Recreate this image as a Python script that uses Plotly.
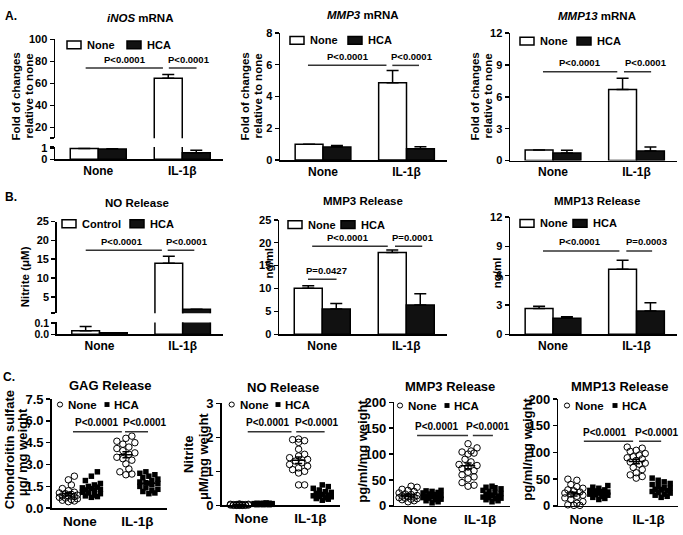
import numpy as np
import plotly.graph_objects as go

W, H = 683, 535
FONT = "Liberation Sans, Arial, sans-serif"

groups = ["None", "IL-1β"]
group_x = [0, 1]

# ---------------- Row A : mRNA (fold of changes) ----------------
inos_none = [1.0, 64.7]
inos_none_err = [0.0, 3.5]
inos_hca = [0.97, 0.61]
inos_hca_err = [0.02, 0.24]

mmp3_mrna_none = [1.0, 4.86]
mmp3_mrna_none_err = [0.0, 0.77]
mmp3_mrna_hca = [0.82, 0.72]
mmp3_mrna_hca_err = [0.1, 0.12]

mmp13_mrna_none = [1.0, 6.69]
mmp13_mrna_none_err = [0.0, 1.06]
mmp13_mrna_hca = [0.7, 0.91]
mmp13_mrna_hca_err = [0.27, 0.37]

# ---------------- Row B : release ----------------
no_ctrl = [0.033, 13.9]
no_ctrl_err = [0.04, 1.9]
no_hca = [0.013, 1.7]
no_hca_err = [0.0, 0.0]

mmp3_rel_none = [10.06, 17.85]
mmp3_rel_none_err = [0.55, 0.55]
mmp3_rel_hca = [5.5, 6.37]
mmp3_rel_hca_err = [1.2, 2.5]

mmp13_rel_none = [2.63, 6.64]
mmp13_rel_none_err = [0.23, 0.93]
mmp13_rel_hca = [1.64, 2.37]
mmp13_rel_hca_err = [0.16, 0.85]

# ---------------- Row C : explant scatter ----------------
gag_none_ctrl = [2.2, 1.95, 1.6, 1.35, 1.2, 1.1, 1.05, 1.0, 0.95, 0.9, 0.85, 0.85, 0.8, 0.75, 0.7, 0.65, 0.6, 0.55, 0.5, 0.45]
gag_none_hca = [2.5, 2.2, 1.9, 1.7, 1.6, 1.5, 1.45, 1.4, 1.35, 1.3, 1.25, 1.2, 1.1, 1.05, 1.0, 0.9, 0.85, 0.8, 0.75]
gag_il_ctrl = [4.95, 4.8, 4.6, 4.5, 4.4, 4.2, 4.1, 3.95, 3.8, 3.7, 3.5, 3.4, 3.3, 3.05, 2.7, 2.5, 2.35, 2.3]
gag_il_hca = [2.5, 2.4, 2.3, 2.2, 2.1, 2.0, 1.9, 1.8, 1.75, 1.7, 1.6, 1.5, 1.4, 1.3, 1.2, 1.15, 1.05, 1.0]

no_none_ctrl = [0.0, 0.01, 0.02, 0.0, 0.01, 0.03, 0.02, 0.01, 0.0, 0.02, 0.01, 0.0, 0.03, 0.02, 0.01, 0.04, 0.0, 0.02]
no_none_hca = [0.02, 0.03, 0.05, 0.04, 0.06, 0.03, 0.02, 0.05, 0.07, 0.04, 0.03, 0.06, 0.05, 0.02, 0.04, 0.03, 0.05, 0.06]
no_il_ctrl = [1.95, 1.93, 1.9, 1.85, 1.65, 1.5, 1.45, 1.4, 1.35, 1.3, 1.25, 1.2, 1.15, 1.1, 1.05, 1.0, 0.95, 0.6, 0.6]
no_il_hca = [0.6, 0.55, 0.5, 0.45, 0.4, 0.38, 0.35, 0.32, 0.3, 0.28, 0.26, 0.25, 0.22, 0.2, 0.18, 0.15]

mmp3_none_ctrl = [38, 36, 32, 30, 28, 25, 23, 22, 20, 19, 18, 17, 16, 15, 14, 13, 12, 10, 8]
mmp3_none_hca = [30, 29, 28, 26, 25, 23, 22, 20, 19, 18, 17, 16, 15, 13, 12, 10, 8, 6]
mmp3_il_ctrl = [120, 112, 106, 104, 102, 100, 90, 85, 80, 78, 75, 72, 68, 65, 60, 56, 52, 45, 40, 38]
mmp3_il_hca = [38, 36, 35, 33, 30, 28, 26, 24, 22, 20, 18, 17, 16, 15, 14, 12, 10, 8]

mmp13_none_ctrl = [50, 48, 40, 36, 33, 30, 28, 26, 24, 22, 20, 18, 15, 12, 8, 5, 2, 1, 1]
mmp13_none_hca = [38, 35, 33, 30, 29, 28, 27, 26, 25, 24, 23, 22, 21, 20, 18, 16, 14, 12]
mmp13_il_ctrl = [110, 108, 104, 102, 98, 95, 92, 90, 88, 85, 82, 80, 78, 72, 68, 62, 58, 55, 52]
mmp13_il_hca = [52, 48, 45, 42, 40, 38, 35, 33, 31, 30, 28, 27, 25, 24, 22, 20, 18, 16]

# ====================================================================
fig = go.Figure()
lay = {}
n_ax = [0]
BOLD = "bold"


def fx(x):
    return x / W


def fy(y):
    return 1 - y / H


def make_axes(xL, xR, yT, yB, xr, yr, yticks, ytext=None, show_x=True, xfs=12, yfs=11):
    n_ax[0] += 1
    n = n_ax[0]
    s = "" if n == 1 else str(n)
    lay["xaxis" + s] = dict(
        domain=[fx(xL), fx(xR)], range=xr, anchor="y" + s,
        showline=show_x, linecolor="black", linewidth=1.5, ticks="",
        tickmode="array", tickvals=group_x if show_x else [],
        ticktext=groups if show_x else [], showticklabels=show_x,
        showgrid=False, zeroline=False, fixedrange=True,
        tickfont=dict(family=FONT, size=xfs, color="black", weight=BOLD))
    lay["yaxis" + s] = dict(
        domain=[fy(yB), fy(yT)], range=yr, anchor="x" + s,
        showline=True, linecolor="black", linewidth=1.5,
        ticks="outside", ticklen=4, tickwidth=1.5, tickcolor="black",
        tickmode="array", tickvals=yticks,
        ticktext=ytext if ytext else [str(v) for v in yticks],
        showgrid=False, zeroline=False, fixedrange=True,
        tickfont=dict(family=FONT, size=yfs, color="black", weight=BOLD))
    return "x" + s, "y" + s


def add_bar_pair(xa, ya, w_vals, w_err, b_vals, b_err):
    for vals, err, fill in ((w_vals, w_err, "white"), (b_vals, b_err, "#111111")):
        fig.add_trace(go.Bar(
            x=group_x, y=vals, xaxis=xa, yaxis=ya,
            marker=dict(color=fill, line=dict(color="black", width=1.5)),
            error_y=dict(type="data", array=err, arrayminus=[0] * len(err),
                         symmetric=False, color="black", thickness=1.5, width=6),
            showlegend=False, hoverinfo="skip"))


def txt(x, y, text, size, xanchor="center", angle=0, weight=BOLD):
    fig.add_annotation(xref="paper", yref="paper", x=fx(x), y=fy(y), text=text,
                       showarrow=False, xanchor=xanchor, yanchor="middle",
                       textangle=angle, borderpad=0,
                       font=dict(family=FONT, size=size, color="black", weight=weight))


def add_sig(xa, ya, specs, size=9.5):
    for x0, x1, y, tx, label in specs:
        fig.add_shape(type="line", xref=xa, yref=ya, x0=x0, x1=x1, y0=y, y1=y,
                      line=dict(color="#333333", width=1.5))
        fig.add_annotation(xref=xa, yref=ya, x=tx, y=y, text=label, showarrow=False,
                           yanchor="middle", yshift=9,
                           font=dict(family=FONT, size=size, color="black", weight=BOLD))


def add_bar_legend(b1x, b2x, yc, labels, size=11):
    for bx, fill, lab in ((b1x, "white", labels[0]), (b2x, "#111111", labels[1])):
        fig.add_shape(type="rect", xref="paper", yref="paper",
                      x0=fx(bx), x1=fx(bx + 14), y0=fy(yc + 4), y1=fy(yc - 4),
                      fillcolor=fill, line=dict(color="black", width=1.5))
        txt(bx + 19, yc, lab, size, xanchor="left")


def add_dot_legend(cx, sx, yc, size=11.5):
    fig.add_shape(type="circle", xref="paper", yref="paper",
                  x0=fx(cx - 2.6), x1=fx(cx + 2.6), y0=fy(yc + 2.6), y1=fy(yc - 2.6),
                  line=dict(color="black", width=1))
    txt(cx + 7, yc, "None", size, xanchor="left")
    fig.add_shape(type="rect", xref="paper", yref="paper",
                  x0=fx(sx - 2.5), x1=fx(sx + 2.5), y0=fy(yc + 2.5), y1=fy(yc - 2.5),
                  fillcolor="black", line=dict(color="black", width=0))
    txt(sx + 6, yc, "HCA", size, xanchor="left")


def swarm(vals, ppu, ppc, d=6.0, maxoff=9.0):
    order = sorted(range(len(vals)), key=lambda i: vals[i])
    cands = [0.0]
    k = 1
    while k * d * 0.5 <= maxoff + 1e-9:
        cands += [k * d * 0.5, -k * d * 0.5]
        k += 1
    placed = []
    offs = [0.0] * len(vals)
    for i in order:
        y = vals[i] * ppu
        best, bestd = 0.0, -1.0
        for c in cands:
            dists = [((c - px) ** 2 + (y - py) ** 2) ** 0.5 for px, py in placed]
            dmin = min(dists) if dists else 1e9
            if dmin >= d:
                best = c
                break
            if dmin > bestd:
                bestd, best = dmin, c
        placed.append((best, y))
        offs[i] = best / ppc
    return offs


def add_dot_panel(xa, ya, geom, data_sets):
    xL, xR, yT, yB, xr, yr = geom
    ppu = (yB - yT) / (yr[1] - yr[0])
    ppc = (xR - xL) / (xr[1] - xr[0])
    for vals, center, kind in data_sets:
        offs = swarm(vals, ppu, ppc)
        xs = [center + o for o in offs]
        if kind == "open":
            mk = dict(symbol="circle-open", size=6.5, color="black", line=dict(color="black", width=1))
        else:
            mk = dict(symbol="square", size=5.5, color="black", line=dict(width=0))
        fig.add_trace(go.Scatter(x=xs, y=vals, xaxis=xa, yaxis=ya, mode="markers",
                                 marker=mk, showlegend=False, hoverinfo="skip", cliponaxis=False))
        m = float(np.mean(vals))
        s = float(np.std(vals, ddof=1) / np.sqrt(len(vals)))
        lx = [center - 0.12, center + 0.12, None,
              center - 0.06, center + 0.06, None,
              center - 0.06, center + 0.06, None,
              center, center]
        ly = [m, m, None, m + s, m + s, None, m - s, m - s, None, m - s, m + s]
        fig.add_trace(go.Scatter(x=lx, y=ly, xaxis=xa, yaxis=ya, mode="lines",
                                 line=dict(color="black", width=1.5),
                                 showlegend=False, hoverinfo="skip"))


XR_BAR = [-0.515, 1.485]

# ---------------- Panel A1 : iNOS (broken axis) ----------------
xa, ya = make_axes(55, 223, 144, 156.7, XR_BAR, [0, 1.155], [0, 1, 1.155], ["0", "1", ""])
add_bar_pair(xa, ya, inos_none, inos_none_err, inos_hca, inos_hca_err)
xa2, ya2 = make_axes(55, 223, 33.3, 135, XR_BAR, [10.3, 100], [10.3, 20, 40, 60, 80, 100],
                     ["", "20", "40", "60", "80", "100"], show_x=False)
add_bar_pair(xa2, ya2, inos_none, inos_none_err, inos_hca, inos_hca_err)
add_sig(xa2, ya2, [(-0.15, 0.77, 74, 0.318, "P<0.0001"), (0.84, 1.17, 74, 1.08, "P<0.0001")])
add_bar_legend(67, 127, 39, ["None", "HCA"])
txt(140, 11, "<i>iNOS</i> mRNA", 11.5)
txt(16, 92, "Fold of changes", 11.5, angle=-90)
txt(29, 92, "relative to none", 11.5, angle=-90)

# ---------------- Panel A2 : MMP3 mRNA ----------------
xa, ya = make_axes(280, 447, 26.7, 157.5, XR_BAR, [0, 8], [0, 2, 4, 6, 8])
add_bar_pair(xa, ya, mmp3_mrna_none, mmp3_mrna_none_err, mmp3_mrna_hca, mmp3_mrna_hca_err)
add_sig(xa, ya, [(-0.18, 0.76, 5.96, 0.295, "P<0.0001"), (0.83, 1.15, 5.96, 1.068, "P<0.0001")])
add_bar_legend(290, 348, 34.3, ["None", "HCA"])
txt(363, 8, "<i>MMP3</i> mRNA", 11.5)
txt(245, 92, "Fold of changes", 11.5, angle=-90)
txt(258, 92, "relative to none", 11.5, angle=-90)

# ---------------- Panel A3 : MMP13 mRNA ----------------
xa, ya = make_axes(510, 677, 26.7, 158, XR_BAR, [0, 12], [0, 3, 6, 9, 12])
add_bar_pair(xa, ya, mmp13_mrna_none, mmp13_mrna_none_err, mmp13_mrna_hca, mmp13_mrna_hca_err)
add_sig(xa, ya, [(-0.12, 0.77, 8.35, 0.318, "P<0.0001"), (0.85, 1.175, 8.35, 1.116, "P<0.0001")])
add_bar_legend(520, 577, 35, ["None", "HCA"])
txt(597, 9, "<i>MMP13</i> mRNA", 11.5)
txt(475, 92, "Fold of changes", 11.5, angle=-90)
txt(488, 92, "relative to none", 11.5, angle=-90)

# ---------------- Panel B1 : NO release (broken axis) ----------------
xa, ya = make_axes(56.7, 223, 324.6, 336.7, XR_BAR, [0, 0.11], [0, 0.1, 0.11], ["0.0", "0.1", ""], yfs=10.5)
add_bar_pair(xa, ya, no_ctrl, no_ctrl_err, no_hca, no_hca_err)
xa2, ya2 = make_axes(56.7, 223, 220.7, 315, XR_BAR, [0.685, 25], [0.685, 5, 10, 15, 20, 25],
                     ["", "5", "10", "15", "20", "25"], show_x=False)
add_bar_pair(xa2, ya2, no_ctrl, no_ctrl_err, no_hca, no_hca_err)
add_sig(xa2, ya2, [(-0.166, 0.75, 17.4, 0.274, "P<0.0001"), (0.82, 1.14, 17.4, 1.048, "P<0.0001")])
add_bar_legend(62, 130, 223, ["Control", "HCA"])
txt(137, 202, "NO Release", 11.5)
txt(25, 278, "Nitrite (μM)", 11.5, angle=-90)

# ---------------- Panel B2 : MMP3 release ----------------
xa, ya = make_axes(279, 447, 219, 336.7, XR_BAR, [0, 25], [0, 5, 10, 15, 20, 25])
add_bar_pair(xa, ya, mmp3_rel_none, mmp3_rel_none_err, mmp3_rel_hca, mmp3_rel_hca_err)
add_sig(xa, ya, [(-0.17, 0.17, 12.0, 0.053, "P=0.0427"),
                 (-0.12, 0.78, 19.26, 0.306, "P<0.0001"),
                 (0.866, 1.19, 19.26, 1.08, "P=0.0001")])
add_bar_legend(288, 341, 224, ["None", "HCA"])
txt(363, 200, "MMP3 Release", 11.5)
txt(269, 264, "ng/ml", 11.5, angle=-90)

# ---------------- Panel B3 : MMP13 release ----------------
xa, ya = make_axes(510, 677, 216, 336.7, XR_BAR, [0, 12], [0, 3, 6, 9, 12])
add_bar_pair(xa, ya, mmp13_rel_none, mmp13_rel_none_err, mmp13_rel_hca, mmp13_rel_hca_err)
add_sig(xa, ya, [(-0.12, 0.795, 8.52, 0.318, "P<0.0001"), (0.878, 1.187, 8.52, 1.116, "P=0.0003")])
add_bar_legend(520, 573, 222.7, ["None", "HCA"])
txt(597, 200, "MMP13 Release", 11.5)
txt(497, 274, "ng/ml", 11.5, angle=-90)

# ---------------- Row C scatter panels ----------------
OFF = 0.2
g = (51.7, 166.7, 403.3, 515.7, [-0.49, 1.51], [0, 7.5])
xa, ya = make_axes(*g, [0, 1.5, 3.0, 4.5, 6.0, 7.5], ["0.0", "1.5", "3.0", "4.5", "6.0", "7.5"], xfs=13.5, yfs=13)
add_dot_panel(xa, ya, g, [(gag_none_ctrl, 0 - OFF, "open"), (gag_none_hca, 0 + OFF, "sq"),
                          (gag_il_ctrl, 1 - OFF, "open"), (gag_il_hca, 1 + OFF, "sq")])
add_sig(xa, ya, [(-0.12, 0.73, 5.25, 0.298, "P<0.0001"), (0.785, 1.185, 5.25, 1.133, "P<0.0001")], size=10)
add_dot_legend(60, 107, 409)
txt(110, 389, "GAG Release", 13)
txt(9, 456, "Chondroitin sulfate", 13, angle=-90)
txt(22, 458, "μg/ mg weight", 13, angle=-90)

g = (221.7, 340, 407.7, 512.7, [-0.5, 1.5], [0, 3])
xa, ya = make_axes(*g, [0, 1, 2, 3], xfs=13.5, yfs=13)
add_dot_panel(xa, ya, g, [(no_none_ctrl, 0 - OFF, "open"), (no_none_hca, 0 + OFF, "sq"),
                          (no_il_ctrl, 1 - OFF, "open"), (no_il_hca, 1 + OFF, "sq")])
add_sig(xa, ya, [(-0.06, 0.68, 2.16, 0.28, "P<0.0001"), (0.76, 1.24, 2.16, 1.11, "P<0.0001")], size=10)
add_dot_legend(231.7, 278, 409)
txt(283, 391, "NO Release", 13)
txt(188, 460, "Nitrite", 13, angle=-90)
txt(203, 463, "μM/mg weight", 13, angle=-90)

g = (394.3, 510, 406.7, 513.3, [-0.43, 1.5], [0, 200])
xa, ya = make_axes(*g, [0, 50, 100, 150, 200], xfs=13.5, yfs=13)
add_dot_panel(xa, ya, g, [(mmp3_none_ctrl, 0 - OFF, "open"), (mmp3_none_hca, 0 + OFF, "sq"),
                          (mmp3_il_ctrl, 1 - OFF, "open"), (mmp3_il_hca, 1 + OFF, "sq")])
add_sig(xa, ya, [(-0.05, 0.8, 136, 0.28, "P<0.0001"), (0.88, 1.215, 136, 1.13, "P<0.0001")], size=10)
add_dot_legend(400, 447, 410)
txt(450, 390.7, "MMP3 Release", 13)
txt(362.5, 457, "pg/ml/mg weight", 13, angle=-90)

g = (558.3, 678, 403.3, 513.3, [-0.45, 1.47], [0, 200])
xa, ya = make_axes(*g, [0, 50, 100, 150, 200], xfs=13.5, yfs=13)
add_dot_panel(xa, ya, g, [(mmp13_none_ctrl, 0 - OFF, "open"), (mmp13_none_hca, 0 + OFF, "sq"),
                          (mmp13_il_ctrl, 1 - OFF, "open"), (mmp13_il_hca, 1 + OFF, "sq")])
add_sig(xa, ya, [(-0.04, 0.75, 121, 0.30, "P<0.0001"), (0.845, 1.2, 121, 1.134, "P<0.0001")], size=10)
add_dot_legend(567, 615, 410)
txt(620, 390.7, "MMP13 Release", 13)
txt(527.5, 455, "pg/ml/mg weight", 13, angle=-90)

# panel letters
txt(4, 9, "A.", 12, xanchor="left")
txt(4, 195, "B.", 12, xanchor="left")
txt(2, 381, "C.", 12, xanchor="left")

fig.update_layout(
    width=W, height=H, margin=dict(l=0, r=0, t=0, b=0),
    paper_bgcolor="white", plot_bgcolor="white", showlegend=False,
    barmode="group", bargap=0.333, bargroupgap=0,
    font=dict(family=FONT, size=11, color="black", weight=BOLD),
    **lay)

fig.write_html("out.html", config={"displayModeBar": False, "staticPlot": True},
               post_script="document.body.style.margin='0px';")
